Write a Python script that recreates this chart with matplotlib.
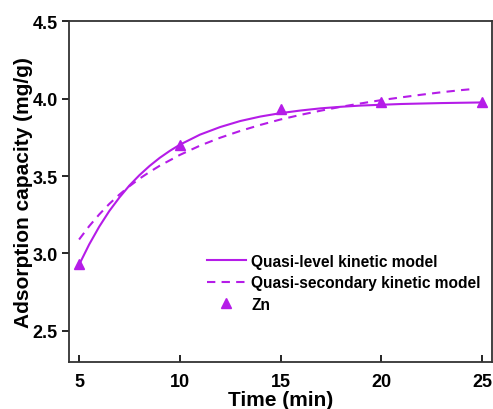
import matplotlib
matplotlib.use('Agg')
import matplotlib.pyplot as plt

plt.rcParams['font.family'] = ['Liberation Sans', 'DejaVu Sans']
plt.rcParams['font.weight'] = 'bold'

purple = '#B51CE8'

# measured Zn uptake
t_obs = [5, 10, 15, 20, 25]
q_obs = [2.93, 3.70, 3.93, 3.98, 3.98]

# quasi-level (first order) fit
t_first = [5, 5.5, 6, 6.5, 7, 7.5, 8, 8.5, 9, 9.5, 10, 11, 12, 13, 14, 15,
           16, 17, 18, 19, 20, 21, 22, 23, 24, 25]
q_first = [2.927, 3.058, 3.173, 3.274, 3.361, 3.439, 3.506, 3.565, 3.617, 3.662, 3.702,
           3.767, 3.816, 3.855, 3.884, 3.906, 3.923, 3.937, 3.947, 3.955, 3.960,
           3.965, 3.968, 3.971, 3.973, 3.975]

# quasi-secondary (second order) fit
t_second = [5, 5.5, 6, 6.5, 7, 7.5, 8, 8.5, 9, 10, 11, 12, 13, 14, 15,
            16, 17, 18, 19, 20, 21, 22, 23, 24, 24.5]
q_second = [3.090, 3.176, 3.252, 3.320, 3.380, 3.434, 3.483, 3.526, 3.566, 3.636,
            3.696, 3.747, 3.791, 3.830, 3.865, 3.895, 3.922, 3.947, 3.969, 3.990,
            4.008, 4.025, 4.041, 4.055, 4.061]

fig = plt.figure(figsize=(4.93, 4.10), dpi=100)
ax = fig.add_axes([0.140, 0.115, 0.858, 0.831])

ax.plot(t_first, q_first, '-', color=purple, lw=1.5, label='Quasi-level kinetic model')
ax.plot(t_second, q_second, '--', color=purple, lw=1.5, dashes=(4, 3),
        label='Quasi-secondary kinetic model')
ax.plot(t_obs, q_obs, '^', color=purple, ms=7, ls='none', label='Zn')

ax.set_xlim(4.5, 25.5)
ax.set_ylim(2.3, 4.5)
ax.set_xticks([5, 10, 15, 20, 25])
ax.set_yticks([2.5, 3.0, 3.5, 4.0, 4.5])
ax.set_yticklabels(['2.5', '3.0', '3.5', '4.0', '4.5'])

ax.tick_params(axis='x', direction='in', length=5, width=1.2, labelsize=13, pad=8)
ax.tick_params(axis='y', direction='out', length=5, width=1.2, labelsize=13, pad=3)
for lab in ax.get_xticklabels() + ax.get_yticklabels():
    lab.set_fontweight('bold')
for s in ax.spines.values():
    s.set_linewidth(1.3)
    s.set_color('#333333')

ax.set_xlabel('Time (min)', fontsize=15, fontweight='bold', labelpad=0)
ax.set_ylabel('Adsorption capacity (mg/g)', fontsize=15, fontweight='bold', labelpad=0)

ax.legend(loc='upper left', bbox_to_anchor=(0.326, 0.318), frameon=False,
          prop={'size': 11.2, 'weight': 'bold'}, handlelength=2.5, handletextpad=0.35,
          labelspacing=0.42, borderpad=0, borderaxespad=0)

fig.savefig('out.png', dpi=100)
